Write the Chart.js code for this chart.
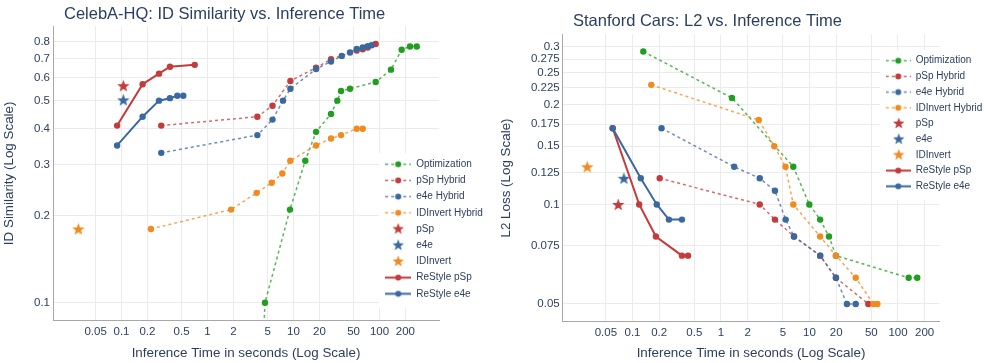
<!DOCTYPE html>
<html lang="en">
<head>
<meta charset="UTF-8" />
<title>Inference time vs quality</title>
<script src="https://cdn.jsdelivr.net/npm/chart.js@4.4.1/dist/chart.umd.min.js"></script>
<style>
  body { margin: 0; background: #fff; }
  #wrap { position: relative; width: 990px; height: 363px; }
  #wrap canvas { position: absolute; }
</style>
</head>
<body>
<div id="wrap">
  <canvas id="celeba" width="495" height="363" style="left:0;top:0"></canvas>
  <canvas id="cars" width="495" height="363" style="left:495px;top:0"></canvas>
  <canvas id="celebaLegend" width="110" height="155" style="left:379px;top:153px"></canvas>
  <canvas id="carsLegend" width="110" height="150" style="left:880px;top:50px"></canvas>
</div>
<script>
// series (same order in both plots)
const seriesNames = ['Optimization', 'pSp Hybrid', 'e4e Hybrid', 'IDInvert Hybrid', 'pSp', 'e4e', 'IDInvert', 'ReStyle pSp', 'ReStyle e4e'];
const seriesKinds = ['dash', 'dash', 'dash', 'dash', 'star', 'star', 'star', 'solid', 'solid'];

const timeTicks = [0.05, 0.1, 0.2, 0.5, 1, 2, 5, 10, 20, 50, 100, 200];
const timeTickLabels = ['0.05', '0.1', '0.2', '0.5', '1', '2', '5', '10', '20', '50', '100', '200'];
const simTicks = [0.1, 0.2, 0.3, 0.4, 0.5, 0.6, 0.7, 0.8];
const simTickLabels = ['0.1', '0.2', '0.3', '0.4', '0.5', '0.6', '0.7', '0.8'];
const lossTicks = [0.05, 0.075, 0.1, 0.125, 0.15, 0.175, 0.2, 0.225, 0.25, 0.275, 0.3];
const lossTickLabels = ['0.05', '0.075', '0.1', '0.125', '0.15', '0.175', '0.2', '0.225', '0.25', '0.275', '0.3'];

// CelebA-HQ: time (s) / ID similarity
const celebaOptTime = [4.2, 4.66, 9.1, 13.7, 18.3, 27.3, 32.3, 35.7, 45.4, 90.3, 136, 181, 226, 271];
const celebaOptSim = [0.05, 0.1, 0.21, 0.31, 0.39, 0.45, 0.5, 0.54, 0.55, 0.58, 0.64, 0.75, 0.77, 0.77];
const celebaPspHybTime = [0.29, 3.8, 5.7, 9.2, 18.3, 27.3, 54.3, 63.8, 72.9, 90.3];
const celebaPspHybSim = [0.41, 0.44, 0.48, 0.585, 0.65, 0.695, 0.745, 0.753, 0.763, 0.785];
const celebaE4eHybTime = [0.29, 3.8, 5.7, 7.55, 9.2, 18.3, 27.3, 36.4, 45.4, 54.3, 63.8, 72.9, 81];
const celebaE4eHybSim = [0.33, 0.38, 0.43, 0.5, 0.55, 0.643, 0.683, 0.714, 0.734, 0.754, 0.763, 0.771, 0.777];
const celebaIdiHybTime = [0.22, 1.88, 3.73, 5.58, 7.41, 9.18, 18.3, 27.3, 35.7, 54.3, 63.8];
const celebaIdiHybSim = [0.18, 0.21, 0.24, 0.26, 0.28, 0.31, 0.35, 0.37, 0.38, 0.4, 0.4];
const celebaPspTime = [0.105];
const celebaPspSim = [0.563];
const celebaE4eTime = [0.105];
const celebaE4eSim = [0.503];
const celebaIdiTime = [0.0315];
const celebaIdiSim = [0.18];
const celebaRsPspTime = [0.089, 0.176, 0.273, 0.366, 0.71];
const celebaRsPspSim = [0.41, 0.57, 0.62, 0.655, 0.665];
const celebaRsE4eTime = [0.089, 0.176, 0.273, 0.366, 0.446, 0.523];
const celebaRsE4eSim = [0.35, 0.44, 0.5, 0.51, 0.52, 0.52];

// Stanford Cars: time (s) / L2 loss
const carsOptTime = [0.1325, 1.33, 6.56, 9.95, 13.2, 16.6, 19.9, 132, 165];
const carsOptLoss = [0.29, 0.21, 0.13, 0.1, 0.09, 0.08, 0.07, 0.06, 0.06];
const carsPspHybTime = [0.203, 2.74, 4.07, 6.68, 13.2, 19.9, 46.2];
const carsPspHybLoss = [0.12, 0.1, 0.09, 0.08, 0.07, 0.06, 0.05];
const carsE4eHybTime = [0.213, 1.41, 2.74, 4.07, 5.38, 6.68, 13.2, 19.9, 26.5, 33.3];
const carsE4eHybLoss = [0.17, 0.13, 0.12, 0.11, 0.09, 0.08, 0.07, 0.06, 0.05, 0.05];
const carsIdiHybTime = [0.163, 2.67, 4.0, 5.36, 6.56, 13.2, 19.9, 33.3, 52.7, 58.5];
const carsIdiHybLoss = [0.23, 0.18, 0.15, 0.13, 0.1, 0.08, 0.07, 0.06, 0.05, 0.05];
const carsPspTime = [0.069];
const carsPspLoss = [0.1];
const carsE4eTime = [0.08];
const carsE4eLoss = [0.12];
const carsIdiTime = [0.0308];
const carsIdiLoss = [0.13];
const carsRsPspTime = [0.0597, 0.119, 0.184, 0.362, 0.424];
const carsRsPspLoss = [0.17, 0.1, 0.08, 0.07, 0.07];
const carsRsE4eTime = [0.0597, 0.124, 0.188, 0.258, 0.362];
const carsRsE4eLoss = [0.17, 0.12, 0.1, 0.09, 0.09];

const GREEN = '#1f9e1f', RED = '#c53a3a', BLUE = '#3a68a0', ORANGE = '#f28a1f';
const seriesColors = [GREEN, RED, BLUE, ORANGE, RED, BLUE, ORANGE, RED, BLUE];
const TEXT = '#2a3f5f';
const FONT = 'Liberation Sans';

function fade(hex, a) {
  const n = parseInt(hex.slice(1), 16);
  return `rgba(${n >> 16},${(n >> 8) & 255},${n & 255},${a})`;
}

function starImage(color, size) {
  const c = document.createElement('canvas');
  c.width = c.height = size;
  const g = c.getContext('2d');
  const r = size / 2, ri = r * 0.42;
  g.beginPath();
  for (let k = 0; k < 10; k++) {
    const rad = k % 2 ? ri : r;
    const a = -Math.PI / 2 + k * Math.PI / 5;
    g.lineTo(r + rad * Math.cos(a), r + 0.6 + rad * Math.sin(a));
  }
  g.closePath();
  g.fillStyle = color;
  g.fill();
  return c;
}

function legendSample(color, kind, w) {
  const c = document.createElement('canvas');
  c.width = w; c.height = 13;
  const g = c.getContext('2d');
  if (kind === 'star') {
    g.drawImage(starImage(color, 12), Math.round((w - 12) / 2), 0);
    return c;
  }
  g.strokeStyle = kind === 'dash' ? fade(color, 0.75) : color;
  g.lineWidth = kind === 'solid' ? 2 : 1.5;
  g.setLineDash(kind === 'dash' ? [3, 3] : []);
  g.beginPath(); g.moveTo(0, 6.5); g.lineTo(w, 6.5); g.stroke();
  g.setLineDash([]);
  g.fillStyle = color;
  g.beginPath(); g.arc(w / 2, 6.5, 3, 0, Math.PI * 2); g.fill();
  return c;
}

function makeDatasets(times, values) {
  return seriesNames.map((name, i) => {
    const kind = seriesKinds[i];
    const color = seriesColors[i];
    return {
      label: name,
      data: times[i].map((t, j) => ({ x: t, y: values[i][j] })),
      borderColor: kind === 'dash' ? fade(color, 0.75) : color,
      backgroundColor: color,
      pointBackgroundColor: color,
      pointBorderWidth: 0,
      pointRadius: 3.2,
      pointStyle: kind === 'star' ? starImage(color, 13) : 'circle',
      borderWidth: kind === 'solid' ? 2 : 1.5,
      borderDash: kind === 'dash' ? [3, 3] : [],
      showLine: kind !== 'star',
      tension: 0,
      order: seriesNames.length - i
    };
  });
}

const plotTitle = {
  id: 'plotTitle',
  afterDraw(chart, args, opts) {
    const ctx = chart.ctx;
    ctx.save();
    ctx.font = `16.5px "${FONT}"`;
    ctx.fillStyle = TEXT;
    ctx.textBaseline = 'middle';
    ctx.fillText(opts.text, opts.x, opts.y);
    ctx.restore();
  }
};

const whiteBg = {
  id: 'whiteBg',
  beforeDraw(chart) {
    const ctx = chart.ctx;
    ctx.save();
    ctx.fillStyle = '#fff';
    ctx.fillRect(0, 0, chart.width, chart.height);
    ctx.restore();
  }
};

function makeChart(id, datasets, cfg) {
  new Chart(document.getElementById(id), {
    type: 'line',
    data: { datasets },
    options: {
      responsive: false,
      animation: false,
      events: [],
      layout: { padding: { top: cfg.top, right: cfg.right, bottom: 0, left: 0 } },
      scales: {
        x: {
          type: 'logarithmic',
          min: cfg.xMin, max: cfg.xMax,
          afterBuildTicks: s => { s.ticks = timeTicks.map(v => ({ value: v })); },
          afterFit: s => { s.height = cfg.xHeight; },
          ticks: { callback: (v, i) => timeTickLabels[i], autoSkip: false, maxRotation: 0, padding: 4, color: TEXT, font: { family: FONT, size: 11.5 } },
          grid: { color: '#ebebeb', drawTicks: false },
          border: { color: '#a8a8a8' },
          title: { display: true, text: 'Inference Time in seconds (Log Scale)', color: TEXT, font: { family: FONT, size: 13.4 }, padding: { top: 0, bottom: 2 } }
        },
        y: {
          type: 'logarithmic',
          min: cfg.yMin, max: cfg.yMax,
          afterBuildTicks: s => { s.ticks = cfg.yTicks.map(v => ({ value: v })); },
          afterFit: s => { s.width = cfg.yWidth; },
          ticks: { callback: (v, i) => cfg.yLabels[i], autoSkip: false, padding: 3, color: TEXT, font: { family: FONT, size: 11.5 } },
          grid: { color: '#ebebeb', drawTicks: false },
          border: { color: '#a8a8a8' },
          title: { display: true, text: cfg.yTitle, color: TEXT, font: { family: FONT, size: 13.4 }, padding: { top: cfg.yTitlePad, bottom: 0 } }
        }
      },
      plugins: {
        legend: { display: false },
        tooltip: { enabled: false },
        plotTitle: { text: cfg.title, x: cfg.titleX, y: cfg.titleY }
      }
    },
    plugins: [plotTitle]
  });
}

function makeLegend(id, sampleWidth, padding) {
  const images = seriesNames.map((n, i) => legendSample(seriesColors[i], seriesKinds[i], sampleWidth));
  new Chart(document.getElementById(id), {
    type: 'line',
    data: { datasets: seriesNames.map(name => ({ label: name, data: [] })) },
    options: {
      responsive: false,
      animation: false,
      events: [],
      scales: { x: { display: false }, y: { display: false } },
      plugins: {
        tooltip: { enabled: false },
        legend: {
          position: 'left',
          align: 'start',
          maxWidth: 200,
          labels: {
            usePointStyle: true,
            pointStyleWidth: sampleWidth,
            boxHeight: 10,
            padding: padding,
            color: TEXT,
            font: { family: FONT, size: 10 },
            generateLabels: chart => chart.data.datasets.map((ds, i) => ({
              text: ds.label, pointStyle: images[i], datasetIndex: i, hidden: false,
              fontColor: TEXT, lineWidth: 0, fillStyle: 'rgba(0,0,0,0)', strokeStyle: 'rgba(0,0,0,0)'
            }))
          }
        }
      }
    },
    plugins: [whiteBg]
  });
}

makeChart('celeba', makeDatasets(
  [celebaOptTime, celebaPspHybTime, celebaE4eHybTime, celebaIdiHybTime, celebaPspTime, celebaE4eTime, celebaIdiTime, celebaRsPspTime, celebaRsE4eTime],
  [celebaOptSim, celebaPspHybSim, celebaE4eHybSim, celebaIdiHybSim, celebaPspSim, celebaE4eSim, celebaIdiSim, celebaRsPspSim, celebaRsE4eSim]
), {
  title: 'CelebA-HQ: ID Similarity vs. Inference Time', titleX: 64, titleY: 14,
  top: 26, right: 56, xHeight: 42.3, yWidth: 53,
  xMin: 0.01598, xMax: 491.8, yMin: 0.0867, yMax: 0.906,
  yTicks: simTicks, yLabels: simTickLabels,
  yTitle: 'ID Similarity (Log Scale)', yTitlePad: 1
});

makeChart('cars', makeDatasets(
  [carsOptTime, carsPspHybTime, carsE4eHybTime, carsIdiHybTime, carsPspTime, carsE4eTime, carsIdiTime, carsRsPspTime, carsRsE4eTime],
  [carsOptLoss, carsPspHybLoss, carsE4eHybLoss, carsIdiHybLoss, carsPspLoss, carsE4eLoss, carsIdiLoss, carsRsPspLoss, carsRsE4eLoss]
), {
  title: 'Stanford Cars: L2 vs. Inference Time', titleX: 78, titleY: 21.5,
  top: 34.3, right: 50.7, xHeight: 41.3, yWidth: 67.7,
  xMin: 0.01627, xMax: 292.9, yMin: 0.0442, yMax: 0.327,
  yTicks: lossTicks, yLabels: lossTickLabels,
  yTitle: 'L2 Loss (Log Scale)', yTitlePad: 3.5
});

makeLegend('celebaLegend', 26, 6.2);
makeLegend('carsLegend', 25, 5.7);
</script>
</body>
</html>
